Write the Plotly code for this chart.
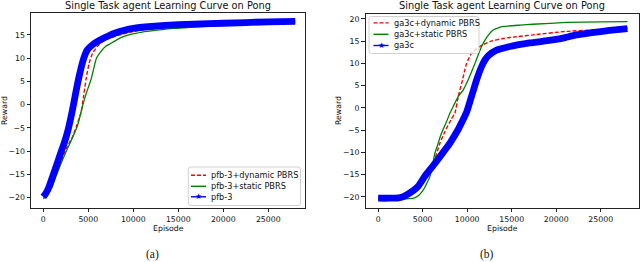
import plotly.graph_objects as go

# ---------------- data: panel (a) ----------------
a_dyn_ep = [0, 700, 1350, 2000, 2600, 3270, 3700, 4190, 4450, 4740, 5100, 5490, 6040, 6800, 7520, 8500, 9740, 11000, 12500, 15000, 20000, 25000, 28000]
a_dyn_r = [-20.0, -18.5, -15.4, -12.0, -9.2, -6.8, -4.5, -1.7, 1.5, 5.4, 9.0, 11.1, 12.6, 13.8, 14.4, 15.0, 15.6, 16.1, 16.6, 17.0, 17.4, 17.7, 17.9]

a_sta_ep = [0, 500, 1000, 1410, 2000, 2600, 3370, 3800, 4150, 4400, 4800, 5300, 5900, 6300, 6970, 7890, 8630, 9700, 11000, 12600, 14400, 16300, 18500, 21000, 25000, 28000]
a_sta_r = [-20.2, -19.3, -17.6, -15.4, -12.5, -9.8, -6.5, -4.5, -1.9, 0.0, 2.6, 5.4, 10.0, 11.2, 12.6, 13.6, 14.4, 15.1, 15.6, 16.0, 16.4, 16.6, 16.9, 17.2, 17.5, 17.8]

a_base_ep = [0, 300, 600, 1040, 1500, 2000, 2330, 2700, 3200, 3500, 3850, 4500, 4900, 5490, 6200, 7150, 8000, 9000, 10000, 12000, 15000, 20000, 25000, 28000]
a_base_r = [-19.8, -19.0, -17.8, -15.4, -12.8, -10.0, -8.2, -5.8, -1.5, 1.5, 5.0, 10.0, 11.8, 12.9, 13.8, 14.7, 15.4, 16.0, 16.4, 16.8, 17.2, 17.5, 17.8, 17.9]

# ---------------- data: panel (b) ----------------
b_dyn_ep = [0, 2500, 3400, 4500, 5300, 6180, 6930, 7500, 8200, 8620, 9000, 9480, 9740, 9930, 10490, 11420, 12550, 14020, 15540, 17380, 21160, 24000, 28000]
b_dyn_r = [-20.3, -20.2, -19.4, -17.8, -15.3, -12.5, -8.0, -5.3, -2.6, -1.2, 2.6, 6.3, 8.6, 10.0, 12.3, 13.8, 14.9, 15.6, 16.0, 16.4, 17.2, 17.5, 17.9]

b_sta_ep = [0, 2500, 3500, 4100, 4600, 5050, 5400, 5800, 6100, 6370, 6740, 7000, 7300, 7700, 8060, 8430, 9000, 9550, 10110, 10500, 10870, 11250, 11620, 12250, 12920, 13500, 14040, 15920, 17380, 21160, 25000, 28000]
b_sta_r = [-20.5, -20.5, -20.4, -20.2, -19.6, -18.5, -17.2, -15.5, -13.0, -10.2, -8.0, -6.3, -4.8, -3.0, -1.2, 0.3, 2.6, 4.0, 6.3, 8.2, 10.0, 12.0, 13.8, 16.0, 17.5, 18.0, 18.3, 18.6, 18.8, 19.2, 19.35, 19.4]

b_base_ep = [0, 1200, 2300, 2900, 3400, 4000, 4500, 5300, 6370, 7300, 8060, 9000, 9600, 9930, 10490, 11060, 11620, 12000, 12400, 13300, 14800, 17000, 19000, 20000, 21000, 22000, 24000, 26000, 28000]
b_base_r = [-20.3, -20.3, -20.2, -19.9, -19.3, -18.5, -17.6, -15.2, -12.5, -10.0, -7.9, -4.8, -2.4, -1.0, 2.6, 6.3, 9.3, 10.8, 11.8, 13.0, 13.8, 14.6, 15.1, 15.4, 15.8, 16.3, 16.9, 17.4, 17.8]

a_names = ["pfb-3+dynamic PBRS", "pfb-3+static PBRS", "pfb-3"]
b_names = ["ga3c+dynamic PBRS", "ga3c+static PBRS", "ga3c"]
title_text = "Single Task agent Learning Curve on Pong"
x_ticks = [0, 5000, 10000, 15000, 20000, 25000]
a_yticks = [-20, -15, -10, -5, 0, 5, 10, 15]
b_yticks = [-20, -15, -10, -5, 0, 5, 10, 15, 20]

RED, GREEN, BLUE = "#ff0000", "#008000", "#0000ff"
FONT = "DejaVu Sans"
TICK_SIZE = 7.8
LEG_SIZE = 8.2
W, H = 640, 262

fig = go.Figure()


def add_panel(xa, ya, ep_d, r_d, ep_s, r_s, ep_b, r_b, names):
    fig.add_trace(go.Scatter(x=ep_d, y=r_d, mode="lines", name=names[0],
                             line=dict(color=RED, width=1.4, dash="4px,2px", shape="spline", smoothing=0.5),
                             xaxis=xa, yaxis=ya, showlegend=False))
    fig.add_trace(go.Scatter(x=ep_s, y=r_s, mode="lines", name=names[1],
                             line=dict(color=GREEN, width=1.3, shape="spline", smoothing=0.5),
                             xaxis=xa, yaxis=ya, showlegend=False))
    fig.add_trace(go.Scatter(x=ep_b, y=r_b, mode="lines", name=names[2],
                             line=dict(color=BLUE, width=6.8, shape="spline", smoothing=0.5),
                             xaxis=xa, yaxis=ya, showlegend=False))


add_panel("x", "y", a_dyn_ep, a_dyn_r, a_sta_ep, a_sta_r, a_base_ep, a_base_r, a_names)
add_panel("x2", "y2", b_dyn_ep, b_dyn_r, b_sta_ep, b_sta_r, b_base_ep, b_base_r, b_names)

axis_common = dict(showline=True, mirror=True, linecolor="#222", linewidth=0.9,
                   ticks="outside", ticklen=3.5, tickwidth=0.8, tickcolor="#222",
                   showgrid=False, zeroline=False, tickformat="d",
                   tickfont=dict(family=FONT, size=TICK_SIZE, color="#111"))

fig.update_layout(
    width=W, height=H,
    margin=dict(l=0, r=0, t=0, b=0),
    paper_bgcolor="white", plot_bgcolor="white",
    showlegend=False,
    xaxis=dict(domain=[31 / W, 305 / W], range=[-1370, 29080], tickvals=x_ticks,
               anchor="y", **axis_common),
    yaxis=dict(domain=[1 - 208 / H, 1 - 13 / H], range=[-22.2, 19.7], tickvals=a_yticks,
               anchor="x", **axis_common),
    xaxis2=dict(domain=[365.5 / W, 639.3 / W], range=[-1420, 29330], tickvals=x_ticks,
                anchor="y2", **axis_common),
    yaxis2=dict(domain=[1 - 208 / H, 1 - 14 / H], range=[-22.5, 21.1], tickvals=b_yticks,
                anchor="x2", **axis_common),
)


def px(x):
    return x / W


def py(y):
    return 1 - y / H


ann = []
shapes = []

# titles, axis labels, sub-captions
for cx in [168, 502]:
    ann.append(dict(text=title_text, x=px(cx), y=py(5.5), xref="paper", yref="paper",
                    xanchor="center", yanchor="middle", showarrow=False,
                    font=dict(family=FONT, size=9.8, color="#111")))
    ann.append(dict(text="Episode", x=px(cx), y=py(228), xref="paper", yref="paper",
                    xanchor="center", yanchor="middle", showarrow=False,
                    font=dict(family=FONT, size=TICK_SIZE, color="#111")))
for cx in [4.5, 338.5]:
    ann.append(dict(text="Reward", x=px(cx), y=py(110.5), xref="paper", yref="paper",
                    xanchor="center", yanchor="middle", showarrow=False, textangle=-90,
                    font=dict(family=FONT, size=TICK_SIZE, color="#111")))
for cx, lab in [(152, "(a)"), (487, "(b)")]:
    ann.append(dict(text=lab, x=px(cx), y=0, xref="paper", yref="paper",
                    xanchor="center", yanchor="bottom", showarrow=False, borderpad=0,
                    font=dict(family="Liberation Serif", size=11.5, color="#111")))


# legends (drawn like matplotlib's)
def legend(x0, y0, x1, y1, line_x0, line_x1, text_x, rows, names):
    r = 2.5
    path = (f"M {px(x0 + r)},{py(y0)} L {px(x1 - r)},{py(y0)} Q {px(x1)},{py(y0)} {px(x1)},{py(y0 + r)} "
            f"L {px(x1)},{py(y1 - r)} Q {px(x1)},{py(y1)} {px(x1 - r)},{py(y1)} "
            f"L {px(x0 + r)},{py(y1)} Q {px(x0)},{py(y1)} {px(x0)},{py(y1 - r)} "
            f"L {px(x0)},{py(y0 + r)} Q {px(x0)},{py(y0)} {px(x0 + r)},{py(y0)} Z")
    shapes.append(dict(type="path", path=path, xref="paper", yref="paper",
                       line=dict(color="#cccccc", width=0.9), fillcolor="rgba(255,255,255,0.8)",
                       layer="above"))
    styles = [dict(color=RED, width=1.4, dash="4px,2px"),
              dict(color=GREEN, width=1.4),
              dict(color=BLUE, width=1.4)]
    for yy, name, st in zip(rows, names, styles):
        shapes.append(dict(type="line", xref="paper", yref="paper", x0=px(line_x0), x1=px(line_x1),
                           y0=py(yy), y1=py(yy), line=st, layer="above"))
        ann.append(dict(text=name, x=px(text_x), y=py(yy), xref="paper", yref="paper",
                        xanchor="left", yanchor="middle", showarrow=False, borderpad=0,
                        font=dict(family=FONT, size=LEG_SIZE, color="#111")))
    ann.append(dict(text="★", x=px((line_x0 + line_x1) / 2), y=py(rows[2]), xref="paper", yref="paper",
                    xanchor="center", yanchor="middle", showarrow=False, borderpad=0,
                    font=dict(family=FONT, size=8, color=BLUE)))


legend(188.3, 167, 300.5, 205.5, 191, 206, 210, [175.3, 186.3, 196.8], a_names)
legend(369, 16.5, 479, 53.5, 373.5, 388.5, 392.5, [22.9, 34.3, 45.5], b_names)

fig.update_layout(annotations=ann, shapes=shapes)

fig.write_html("out.html", config={"displayModeBar": False},
               post_script="document.body.style.margin='0';document.body.style.padding='0';")
